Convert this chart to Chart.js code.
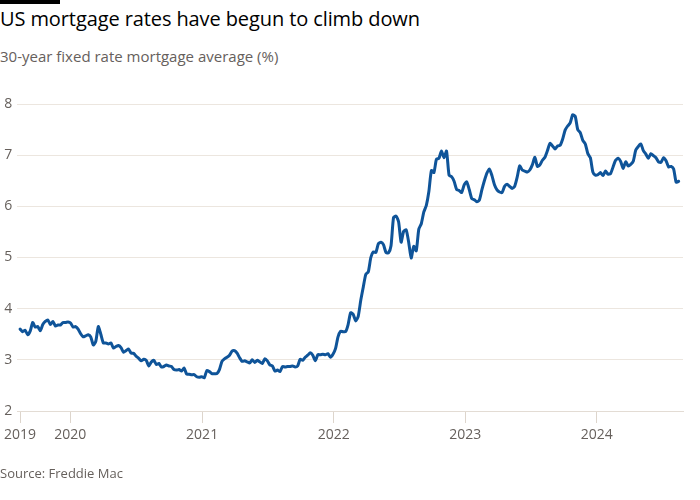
<!DOCTYPE html>
<html>
<head>
<meta charset="utf-8">
<script src="https://cdn.jsdelivr.net/npm/chart.js@4"></script>
<style>
  html, body { margin:0; padding:0; background:#fff; }
  #wrap { position:relative; width:700px; height:500px; overflow:hidden; font-family:"Open Sans", "Noto Sans", sans-serif; }
  #bar { position:absolute; left:0; top:0; width:60px; height:4px; background:#000; }
  #title { position:absolute; left:0; top:5px; font-size:20px; color:#000; white-space:nowrap; letter-spacing:-0.1px; }
  #sub { position:absolute; left:0; top:46px; font-size:15px; color:#66605c; white-space:nowrap; }
  #src { position:absolute; left:0; top:464px; font-size:13px; color:#66605c; white-space:nowrap; }
  canvas { position:absolute; left:0; top:0; }
</style>
</head>
<body>
<div id="wrap">
  <div id="bar"></div>
  <div id="title">US mortgage rates have begun to climb down</div>
  <div id="sub">30-year fixed rate mortgage average (%)</div>
  <canvas id="c" width="700" height="500"></canvas>
  <div id="src">Source: Freddie Mac</div>
</div>
<script>
// Weekly 30-year fixed mortgage rate (%), Freddie Mac, starting Thursday 15 Aug 2019
const rates2019 = [3.60,3.55,3.58,3.49,3.56,3.73,3.64,3.65,3.57,3.69,3.75,3.78,3.69,3.75,3.66,3.68,3.68,3.73,3.73,3.74];
const rates2020 = [3.72,3.64,3.65,3.60,3.51,3.45,3.47,3.49,3.45,3.29,3.36,3.65,3.50,3.33,3.33,3.31,3.33,3.23,3.26,3.28,3.24,3.15,3.18,3.21,3.13,3.13,3.07,3.03,2.98,3.01,2.99,2.88,2.96,2.99,2.91,2.93,2.86,2.87,2.90,2.88,2.87,2.81,2.80,2.81,2.78,2.84,2.72,2.72,2.71,2.71,2.67,2.66,2.67];
const rates2021 = [2.65,2.79,2.77,2.73,2.73,2.73,2.81,2.97,3.02,3.05,3.09,3.17,3.18,3.13,3.04,2.97,2.98,2.96,2.94,3.00,2.95,2.99,2.96,2.93,3.02,2.98,2.90,2.88,2.78,2.80,2.77,2.87,2.86,2.87,2.87,2.88,2.86,2.88,3.01,2.99,3.05,3.09,3.14,3.09,2.98,3.10,3.10,3.11,3.10,3.12,3.05,3.11];
const rates2022 = [3.22,3.45,3.56,3.55,3.55,3.69,3.92,3.89,3.76,3.85,4.16,4.42,4.67,4.72,5.00,5.11,5.10,5.27,5.30,5.25,5.10,5.09,5.23,5.78,5.81,5.70,5.30,5.51,5.54,5.30,4.99,5.22,5.13,5.55,5.66,5.89,6.02,6.29,6.70,6.66,6.92,6.94,7.08,6.95,7.08,6.61,6.58,6.49,6.33,6.31,6.27,6.42];
const rates2023 = [6.48,6.33,6.15,6.13,6.09,6.12,6.32,6.50,6.65,6.73,6.60,6.42,6.32,6.28,6.27,6.39,6.43,6.39,6.35,6.39,6.57,6.79,6.71,6.69,6.67,6.71,6.81,6.96,6.78,6.81,6.90,6.96,7.09,7.23,7.18,7.12,7.18,7.19,7.31,7.49,7.57,7.63,7.79,7.76,7.50,7.44,7.29,7.22,7.03,6.95,6.67,6.61];
const rates2024 = [6.62,6.66,6.60,6.69,6.63,6.64,6.77,6.90,6.94,6.88,6.74,6.87,6.79,6.82,6.88,7.10,7.17,7.22,7.09,7.02,6.94,7.03,6.99,6.95,6.87,6.86,6.95,6.89,6.77,6.78,6.73,6.47,6.49];
const yearLabels = ["2019","2020","2021","2022","2023","2024"];
const yTicks = [2,3,4,5,6,7,8];

const DAY = 86400000;
const firstWeek = Date.UTC(2019,7,15);
const values = [].concat(rates2019, rates2020, rates2021, rates2022, rates2023, rates2024);
const points = values.map((v,i) => ({ x: firstWeek + i*7*DAY, y: v }));
const tickValues = [firstWeek, Date.UTC(2020,0,1), Date.UTC(2021,0,1), Date.UTC(2022,0,1), Date.UTC(2023,0,1), Date.UTC(2024,0,1)];

const grey = '#66605c';
const gridCol = '#ece6df';
const FONT = '"Open Sans", "Noto Sans", sans-serif';

new Chart(document.getElementById('c'), {
  type: 'line',
  data: { datasets: [{ data: points, borderColor: '#0f5499', borderWidth: 3, pointRadius: 0, tension: 0.2, borderJoinStyle: 'round', borderCapStyle: 'round' }] },
  options: {
    responsive: false,
    animation: false,
    events: [],
    layout: { padding: { left: 4, right: 17, top: 104, bottom: 0 } },
    plugins: { legend: { display: false }, tooltip: { enabled: false } },
    scales: {
      x: {
        type: 'linear',
        min: Date.UTC(2019,7,7),
        max: Date.UTC(2024,7,27),
        afterBuildTicks: s => { s.ticks = tickValues.map(v => ({ value: v })); },
        afterFit: s => { s.height = 89; },
        ticks: {
          autoSkip: false, maxRotation: 0, padding: 4, color: grey,
          font: { family: FONT, size: 14 },
          callback: (v, i) => yearLabels[i]
        },
        grid: { drawOnChartArea: false, drawTicks: true, tickLength: 12, color: '#ddd5cc', lineWidth: 1 },
        border: { display: true, color: '#e3dcd4', width: 1 }
      },
      y: {
        min: 2, max: 8,
        afterBuildTicks: s => { s.ticks = yTicks.map(v => ({ value: v })); },
        afterFit: s => { s.width = 13; },
        ticks: { crossAlign: 'far', padding: 0, color: grey, font: { family: FONT, size: 14 } },
        grid: { drawTicks: false, color: gridCol, lineWidth: 1 },
        border: { display: false }
      }
    }
  }
});
</script>
</body>
</html>
